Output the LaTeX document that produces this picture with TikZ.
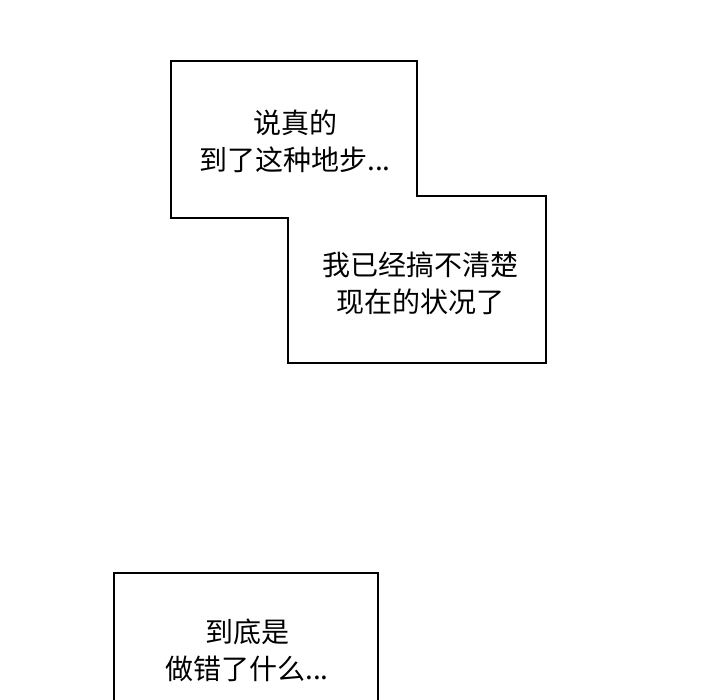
\documentclass[tikz,border=0pt]{standalone}
\usepackage{fontspec}
\newfontfamily\cjk{Noto Sans CJK SC}
\begin{document}
\begin{tikzpicture}[x=1pt,y=-1pt,
  panel/.style={draw=black,line width=1.6pt,fill=white,line join=miter},
  speech/.style={font=\cjk\fontsize{28}{37}\selectfont,align=center,text=black,inner sep=0pt}]
\useasboundingbox[fill=white] (0,0) rectangle (720,700);
\begin{scope}
\clip (0,0) rectangle (720,700);
\draw[panel] (171,61) -- (417,61) -- (417,196) -- (546,196) -- (546,363) -- (288,363) -- (288,218) -- (171,218) -- cycle;
\draw[panel] (114,710) -- (114,573) -- (378,573) -- (378,710);
\end{scope}
\node[speech] (t1) at (295,141) {说真的\\到了这种地步...};
\node[speech] (t2) at (420,283) {我已经搞不清楚\\现在的状况了};
\node[speech] (t3) at (247,650) {到底是\\做错了什么...};
\end{tikzpicture}
\end{document}
